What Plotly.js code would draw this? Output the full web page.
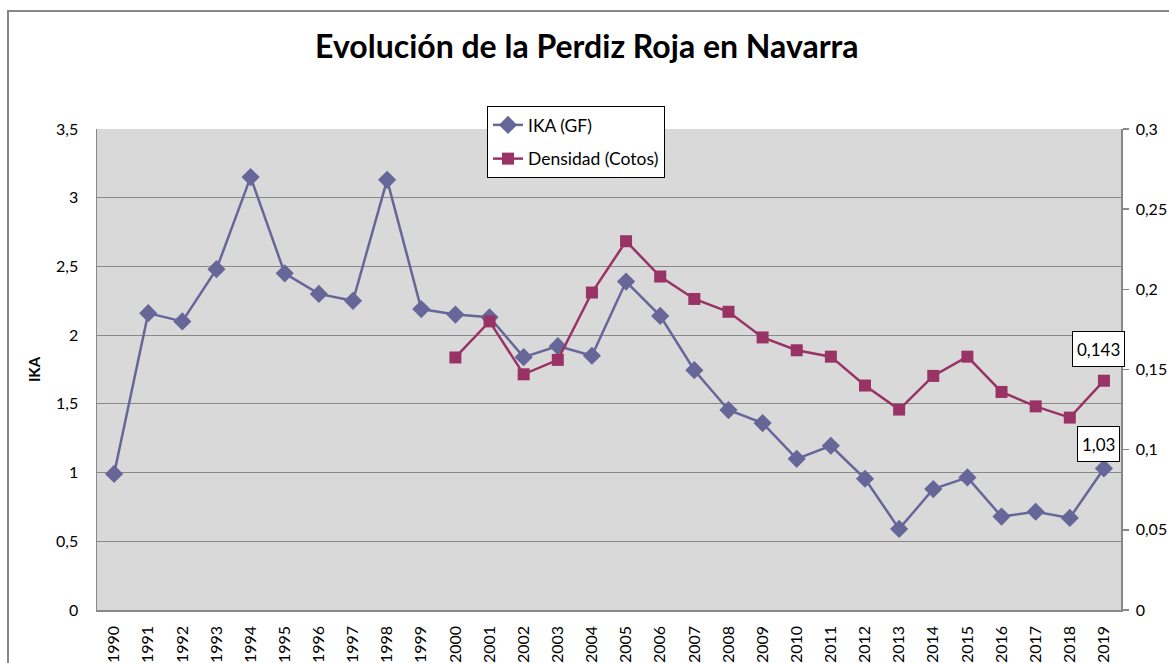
<!DOCTYPE html>
<html>
<head>
<meta charset="utf-8">
<script src="https://cdn.plot.ly/plotly-3.0.1.min.js"></script>
<style>
html,body{margin:0;padding:0;background:#fff;}
#chart{width:1169px;height:663px;}
</style>
</head>
<body>
<div id="chart"></div>
<script>
const years = ['1990','1991','1992','1993','1994','1995','1996','1997','1998','1999',
  '2000','2001','2002','2003','2004','2005','2006','2007','2008','2009',
  '2010','2011','2012','2013','2014','2015','2016','2017','2018','2019'];
const ika = [0.99,2.16,2.10,2.48,3.15,2.45,2.30,2.25,3.13,2.19,
  2.15,2.13,1.84,1.92,1.85,2.39,2.14,1.745,1.455,1.36,
  1.10,1.195,0.955,0.59,0.88,0.965,0.68,0.715,0.67,1.03];
const densidad = [null,null,null,null,null,null,null,null,null,null,
  0.1575,0.180,0.147,0.156,0.198,0.230,0.208,0.194,0.186,0.170,
  0.162,0.158,0.140,0.125,0.146,0.158,0.136,0.127,0.120,0.143];
const seriesNames = ['IKA (GF)','Densidad (Cotos)'];
const titleText = 'Evolución de la Perdiz Roja en Navarra';
const yTitle = 'IKA';

const FONT = 'Lato, "Noto Sans", sans-serif';
const lastIdx = years.length - 1;

const traces = [
  {x: years, y: ika, name: seriesNames[0], type: 'scatter', mode: 'lines+markers',
   legendgroup: 'a',
   line: {color: '#666699', width: 2.5},
   marker: {symbol: 'diamond', size: 14, color: '#666699'}},
  {x: years, y: densidad, name: seriesNames[1], type: 'scatter', mode: 'lines+markers',
   yaxis: 'y2', legendgroup: 'b', connectgaps: false,
   line: {color: '#993366', width: 2.5},
   marker: {symbol: 'square', size: 12, color: '#993366'}}
];

const fmt = v => String(v).replace('.', ',');

const layout = {
  width: 1169, height: 663,
  margin: {l: 97, r: 48, t: 129, b: 53},
  paper_bgcolor: '#ffffff',
  plot_bgcolor: '#d9d9d9',
  separators: ',.',
  font: {family: FONT, size: 16, color: '#000'},
  title: {text: '<b>' + titleText + '</b>', font: {family: FONT, size: 32, color: '#000'},
          x: 0.502, xanchor: 'center', y: 1 - 47/663, yanchor: 'middle', yref: 'container'},
  showlegend: true,
  legend: {x: (487-97)/1024, xanchor: 'left', y: 1 + (129-106)/481, yanchor: 'top',
           bgcolor: '#ffffff', bordercolor: '#000000', borderwidth: 1,
           font: {family: FONT, size: 17.5}, traceorder: 'grouped', tracegroupgap: 8},
  xaxis: {type: 'category', range: [-0.5, 29.5], tickangle: -90,
          showgrid: false, showline: true, linecolor: '#888888', linewidth: 1.5,
          ticks: '', ticklabelstandoff: 8, tickfont: {size: 16}, fixedrange: true, zeroline: false},
  yaxis: {range: [0, 3.5], dtick: 0.5, tick0: 0, showgrid: true, gridcolor: '#888888', gridwidth: 1,
          showline: true, linecolor: '#888888', linewidth: 1.5, ticks: '', zeroline: false,
          ticklabelstandoff: 14, tickfont: {size: 16},
          title: {text: '<b>' + yTitle + '</b>', font: {size: 15}, standoff: 12}},
  yaxis2: {range: [0, 0.3], dtick: 0.05, tick0: 0, overlaying: 'y', side: 'right',
           showgrid: false, showline: true, linecolor: '#888888', linewidth: 1.5,
           ticks: 'outside', ticklen: 6, tickcolor: '#888888', tickwidth: 1.5,
           ticklabelstandoff: 4, zeroline: false, tickfont: {size: 16}},
  annotations: [
    {x: lastIdx, y: ika[lastIdx], xref: 'x', yref: 'y', text: fmt(ika[lastIdx]),
     showarrow: false, xshift: -5, yshift: 24, bgcolor: '#ffffff', bordercolor: '#000000',
     borderwidth: 1, borderpad: 4, height: 26, valign: 'middle', font: {size: 17}},
    {x: lastIdx, y: densidad[lastIdx], xref: 'x', yref: 'y2', text: fmt(densidad[lastIdx]),
     showarrow: false, xshift: -5, yshift: 32, bgcolor: '#ffffff', bordercolor: '#000000',
     borderwidth: 1, borderpad: 4, height: 26, valign: 'middle', font: {size: 17}}
  ],
  shapes: [
    {type: 'rect', xref: 'paper', yref: 'paper', x0: (8-97)/1024, x1: 1.2,
     y0: -0.3, y1: 1 + (129-11)/481, line: {color: '#888888', width: 2}, fillcolor: 'rgba(0,0,0,0)', layer: 'below'}
  ]
};

Plotly.newPlot('chart', traces, layout, {displayModeBar: false, staticPlot: true});
</script>
</body>
</html>
